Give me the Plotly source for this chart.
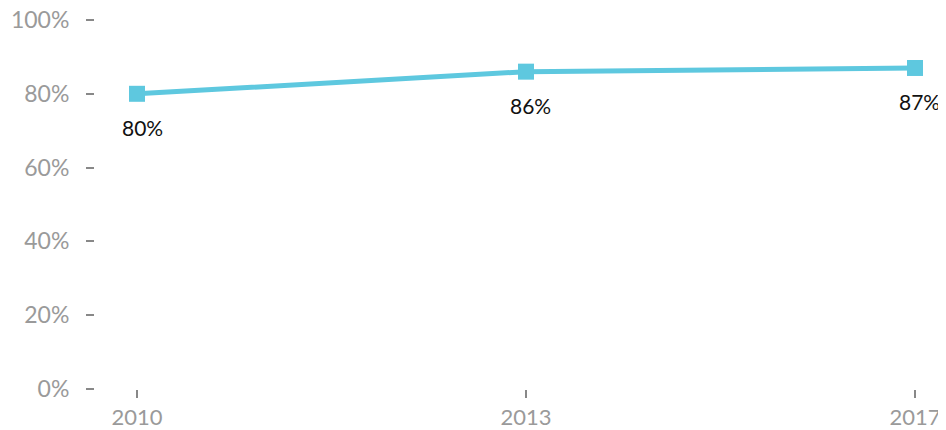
import plotly.graph_objects as go

years = ["2010", "2013", "2017"]
values = [80, 86, 87]
labels = ["80%", "86%", "87%"]
y_ticks = [0, 20, 40, 60, 80, 100]
y_tick_text = ["0%", "20%", "40%", "60%", "80%", "100%"]

line_color = "#5EC8DF"
tick_color = "#9A9A9A"
font_family = "Lato"

fig = go.Figure()
fig.add_trace(go.Scatter(
    x=years, y=values, mode="lines+markers",
    line=dict(color=line_color, width=5),
    marker=dict(symbol="square", size=16, color=line_color),
    hoverinfo="skip", cliponaxis=False,
))
for i, (y, t) in enumerate(zip(values, labels)):
    fig.add_annotation(x=i, y=y, xref="x", yref="y", text=t, showarrow=False,
                       yshift=-34, xshift=5 if i == 0 else 4,
                       font=dict(family=font_family, size=21, color="#111111"))

fig.update_layout(
    width=938, height=422,
    margin=dict(l=87, r=31, t=12, b=41, autoexpand=False),
    paper_bgcolor="white", plot_bgcolor="white",
    showlegend=False,
    font=dict(family=font_family, size=23, color=tick_color),
)
fig.update_xaxes(
    type="category", range=[-0.108, 2], showgrid=False, zeroline=False,
    showline=False, ticks="outside", ticklen=8, tickwidth=2, tickcolor="#888888",
    ticklabelstandoff=1, automargin=False, ticklabeloverflow="allow",
    tickfont=dict(family=font_family, size=22, color=tick_color),
)
fig.update_yaxes(
    range=[0, 100], tickvals=y_ticks, ticktext=y_tick_text,
    showgrid=False, zeroline=False, showline=False,
    ticks="outside", ticklen=8, tickwidth=2, tickcolor="#888888",
    ticklabelstandoff=12, automargin=False, ticklabeloverflow="allow",
    tickfont=dict(family=font_family, size=23, color=tick_color),
)
fig.write_html("out.html")
